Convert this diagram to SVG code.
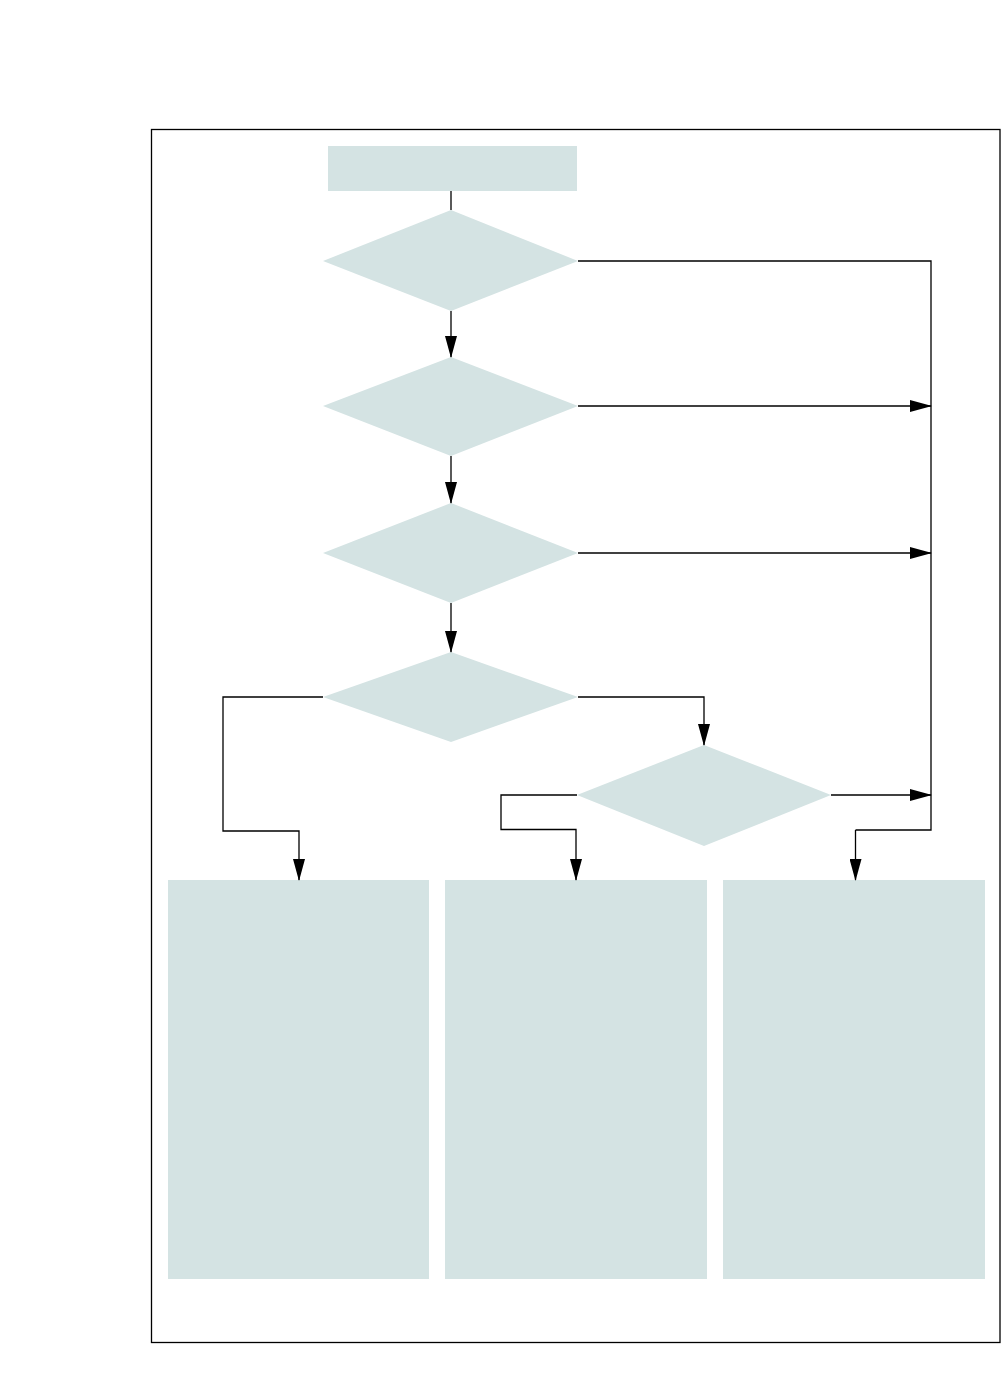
<svg xmlns="http://www.w3.org/2000/svg" width="1001" height="1374" viewBox="0 0 1001 1374">
<style>
.n{fill:#d4e3e3;stroke:none}
.c{fill:none;stroke:#000;stroke-width:1.3}
.a{marker-end:url(#ah)}
</style>
<defs>
<marker id="ah" markerUnits="userSpaceOnUse" markerWidth="22" markerHeight="12" refX="21" refY="6" orient="auto">
<path d="M0,0 L22,6 L0,12 z" fill="#000"/>
</marker>
</defs>
<rect x="0" y="0" width="1001" height="1374" fill="#fff"/>
<rect id="frame" x="151.5" y="129.5" width="848.5" height="1213" fill="none" stroke="#000" stroke-width="1.3"/>
<g id="start"><rect class="n" x="328" y="146" width="249" height="45"/></g>
<g id="d1"><polygon class="n" points="451,210 578,261 451,311 323,261"/></g>
<g id="d2"><polygon class="n" points="451,357 578,406 451,456 323,406"/></g>
<g id="d3"><polygon class="n" points="451,503 578,553 451,603 323,553"/></g>
<g id="d4"><polygon class="n" points="451,652 578,697 451,742 323,697"/></g>
<g id="d5"><polygon class="n" points="704,745 831,795 704,846 577,795"/></g>
<g id="box1"><rect class="n" x="168" y="880" width="261" height="399"/></g>
<g id="box2"><rect class="n" x="445" y="880" width="262" height="399"/></g>
<g id="box3"><rect class="n" x="723" y="880" width="262" height="399"/></g>
<g id="connectors">
<path class="c" d="M451,191 V210"/>
<path class="c a" d="M451,311 V357"/>
<path class="c a" d="M451,456 V503"/>
<path class="c a" d="M451,603 V652"/>
<path class="c" d="M578,261 H931 V830 H855.5"/>
<path class="c a" d="M855.5,830 V880"/>
<path class="c a" d="M578,406 H931"/>
<path class="c a" d="M578,553 H931"/>
<path class="c a" d="M831,795 H931"/>
<path class="c a" d="M323,697 H223 V831 H299 V880"/>
<path class="c a" d="M578,697 H704 V745"/>
<path class="c a" d="M577,795 H501 V829.5 H576 V880"/>
</g>
</svg>
